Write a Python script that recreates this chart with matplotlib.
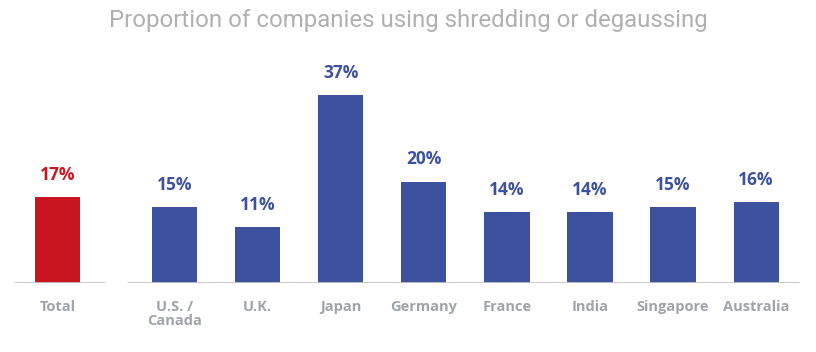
import matplotlib.pyplot as plt

# ==========================================================
# Data
# ==========================================================

total_label = "Total"
total_value = 17

countries = [
    "U.S. /\nCanada",
    "U.K.",
    "Japan",
    "Germany",
    "France",
    "India",
    "Singapore",
    "Australia",
]
country_values = [15, 11, 37, 20, 14, 14, 15, 16]

title = "Proportion of companies using shredding or degaussing"

RED = "#c8151f"
BLUE = "#3d529e"
GRAY_TEXT = "#a0a3ab"
GRAY_LINE = "#c4c4c4"
TITLE_GRAY = "#b0b0b0"

plt.rcParams["font.family"] = ["Open Sans", "DejaVu Sans"]

# ==========================================================
# Plot
# ==========================================================

fig = plt.figure(figsize=(8.16, 3.52), dpi=100)
ax = fig.add_axes([0, 69 / 352, 1, 243 / 352])

# x unit = distance between country bars (~83 px)
total_x = -1.41
country_x = list(range(len(countries)))
width = 0.545

ax.bar(total_x, total_value, width=width, color=RED)
ax.bar(country_x, country_values, width=width, color=BLUE)

# value labels
ax.annotate(
    f"{total_value}%",
    (total_x, total_value),
    xytext=(0, 9.5),
    textcoords="offset points",
    ha="center",
    va="bottom",
    fontsize=12.5,
    fontweight="bold",
    color=RED,
)
for x, v in zip(country_x, country_values):
    ax.annotate(
        f"{v}%",
        (x, v),
        xytext=(0, 9.5),
        textcoords="offset points",
        ha="center",
        va="bottom",
        fontsize=12.5,
        fontweight="bold",
        color=BLUE,
    )

# category labels
ax.annotate(
    total_label,
    (total_x, 0),
    xytext=(0, -12.5),
    textcoords="offset points",
    ha="center",
    va="top",
    fontsize=10.5,
    fontweight="bold",
    color=GRAY_TEXT,
)
for x, name in zip(country_x, countries):
    ax.annotate(
        name,
        (x, 0),
        xytext=(0, -12.5),
        textcoords="offset points",
        ha="center",
        va="top",
        fontsize=10.5,
        fontweight="bold",
        color=GRAY_TEXT,
        linespacing=1.0,
    )

# baselines
ax.hlines(0, -1.93, -0.835, color=GRAY_LINE, linewidth=2)
ax.hlines(0, -0.57, 7.515, color=GRAY_LINE, linewidth=2)

ax.set_xlim(-2.1, 7.72)
ax.set_ylim(0, 47.9)
ax.axis("off")

fig.text(
    0.5,
    1 - 20 / 352,
    title,
    ha="center",
    va="center",
    fontsize=17.3,
    color=TITLE_GRAY,
    family=["Roboto", "DejaVu Sans"],
)

plt.savefig("out.png", dpi=100)
plt.close()
